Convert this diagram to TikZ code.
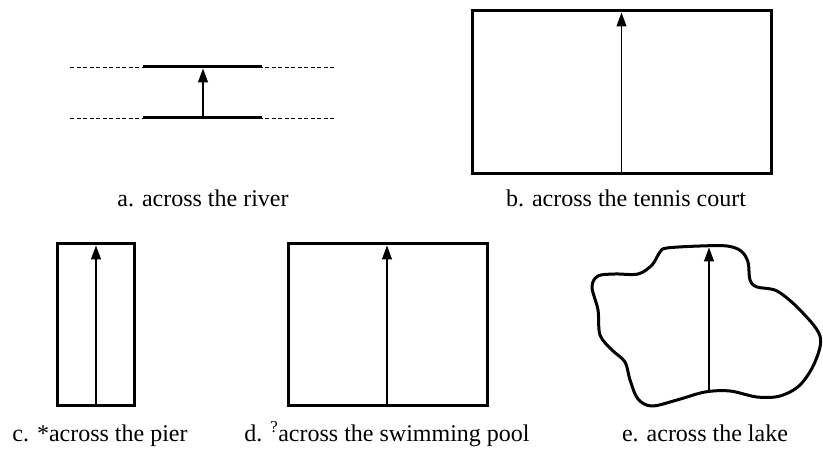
\documentclass[tikz,border=0pt]{standalone}
\usepackage{fontspec}
\setmainfont{Liberation Serif}
\usetikzlibrary{arrows.meta,positioning}

\begin{document}
\begin{tikzpicture}[x=1pt,y=-1pt,
		edge/.style={line width=3pt},
		crossing/.style={line width=1.2pt,-{Triangle[length=14pt,width=10pt]}},
		lbl/.style={font=\fontsize{24}{28}\selectfont,anchor=base}]
				\useasboundingbox (0,0) rectangle (823,449);
				% a. the river
				\foreach \y in {67,118} {
				\draw[dash pattern=on 4pt off 2.5pt,line width=0.8pt] (70,\y) -- (335,\y);
				\draw[edge] (143,\y) -- (262,\y);
				}
				\draw[crossing] (203,118) -- (203,68.5);
				\node[lbl] (river) at (203,207) {a. across the river};
				% b. the tennis court
				\draw[edge] (472,11) rectangle (771,174);
				\draw[crossing] (621.5,174) -- (621.5,12.5);
				\node[lbl] (court) at (626,207) {b. across the tennis court};
				% c. and d., pier and pool
				\foreach \l/\r/\m in {57/134/96, 288/487/387}{
				\draw[edge] (\l,244) rectangle (\r,406);
				\draw[crossing] (\m,406) -- (\m,245.5);
				}
				\node[lbl] (pier) at (100,442) {c. *across the pier};
				\node[lbl] (pool) at (387,442) {d. \textsuperscript{?}across the swimming pool};
				% e. the lake
				\draw[edge,line join=round] plot[smooth cycle,tension=0.55] coordinates {
					(667,248) (700,246) (727,246) (741,251) (748,262) (750,280) (757,287)
					(777,291) (800,310) (820,336) (815,362) (800,385) (780,396) (757,397)
					(730,391) (705,392) (677,400) (652,406) (638,399) (630,380) (625,362)
					(612,350) (600,335) (598,310) (592,287) (598,276) (615,274) (638,274)
					(652,265) (660,252)};
				\draw[crossing] (709,392) -- (709,247.5);
				\node[lbl] (lake) at (705,442) {e. across the lake};
\end{tikzpicture}
\end{document}
